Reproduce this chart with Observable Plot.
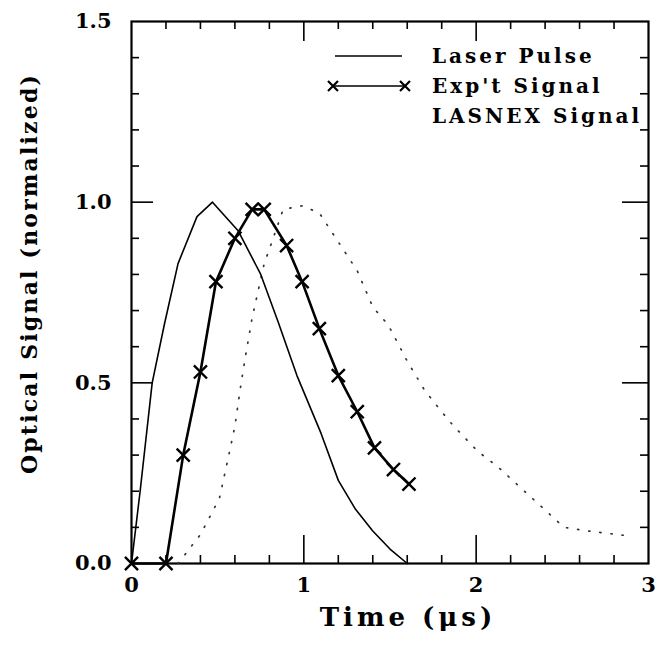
<!DOCTYPE html>
<html><head><meta charset="utf-8">
<script src="https://cdn.jsdelivr.net/npm/d3@7"></script>
<script src="https://cdn.jsdelivr.net/npm/@observablehq/plot@0.6"></script>
<style>
body{margin:0;background:#fff;}
#wrap{position:relative;width:658px;height:647px;}
#legend{position:absolute;left:0;top:0;}
</style></head><body><div id="wrap"></div>
<script>
// ---- data ----
const laserT = [0, 0.05, 0.12, 0.19, 0.27, 0.38, 0.47, 0.62, 0.75, 0.85, 0.96, 1.10, 1.20, 1.30, 1.40, 1.50, 1.60];
const laserV = [0, 0.20, 0.50, 0.66, 0.83, 0.96, 1.00, 0.92, 0.80, 0.67, 0.52, 0.36, 0.23, 0.15, 0.09, 0.04, 0.00];
const expT = [0, 0.2, 0.3, 0.4, 0.49, 0.6, 0.7, 0.77, 0.9, 0.99, 1.09, 1.2, 1.31, 1.41, 1.52, 1.61];
const expV = [0, 0, 0.30, 0.53, 0.78, 0.90, 0.98, 0.98, 0.88, 0.78, 0.65, 0.52, 0.42, 0.32, 0.26, 0.22];
const lasT = [0.27, 0.40, 0.51, 0.56, 0.60, 0.63, 0.66, 0.70, 0.77, 0.80, 0.88, 0.99, 1.09, 1.20, 1.31, 1.40, 1.49, 1.60, 1.70, 1.80, 1.87, 2.01, 2.12, 2.51, 2.65, 2.91];
const lasV = [0.00, 0.08, 0.18, 0.29, 0.38, 0.48, 0.57, 0.68, 0.83, 0.87, 0.98, 0.99, 0.97, 0.89, 0.81, 0.71, 0.66, 0.56, 0.48, 0.42, 0.38, 0.31, 0.27, 0.10, 0.09, 0.075];

const xTicks = [0, 1, 2, 3];
const xTickLabels = ["0", "1", "2", "3"];
const xMinor = [0.2, 0.4, 0.6, 0.8, 1.2, 1.4, 1.6, 1.8, 2.2, 2.4, 2.6, 2.8];
const yTicks = [0, 0.5, 1.0, 1.5];
const yTickLabels = ["0.0", "0.5", "1.0", "1.5"];
const yMinor = [0.1, 0.2, 0.3, 0.4, 0.6, 0.7, 0.8, 0.9, 1.1, 1.2, 1.3, 1.4];
const seriesNames = ["Laser Pulse", "Exp't Signal", "LASNEX Signal"];
const xLabel = "Time (\u03bcs)";
const yLabel = "Optical Signal (normalized)";

// ---- layout ----
const W = 658, H = 647, mL = 131, mR = 10, mT = 21, mB = 84;
const innerW = W - mL - mR, innerH = H - mT - mB;
const FONT = "DejaVu Serif";

const laser = laserT.map((t, i) => ({t, v: laserV[i]}));
const exp = expT.map((t, i) => ({t, v: expV[i]}));
const las = lasT.map((t, i) => ({t, v: lasV[i]}));
const xLab = new Map(xTicks.map((d, i) => [d, xTickLabels[i]]));
const yLab = new Map(yTicks.map((d, i) => [d, yTickLabels[i]]));

const chart = Plot.plot({
  width: W, height: H,
  marginLeft: mL, marginRight: mR, marginTop: mT, marginBottom: mB,
  x: {domain: [0, 3], axis: null},
  y: {domain: [0, 1.5], axis: null},
  style: {fontFamily: FONT, background: "#fff", color: "#000"},
  marks: [
    // inward minor ticks
    Plot.ruleX(xMinor, {x: d => d, insetTop: innerH - 8, stroke: "#000", strokeWidth: 1.6}),
    Plot.ruleX(xMinor, {x: d => d, insetBottom: innerH - 8, stroke: "#000", strokeWidth: 1.6}),
    Plot.ruleX([1, 2], {x: d => d, insetTop: innerH - 28, stroke: "#000", strokeWidth: 1.6}),
    Plot.ruleX([1, 2], {x: d => d, insetBottom: innerH - 20, stroke: "#000", strokeWidth: 1.6}),
    Plot.ruleY(yMinor, {y: d => d, insetRight: innerW - 8, stroke: "#000", strokeWidth: 1.6}),
    Plot.ruleY(yMinor, {y: d => d, insetLeft: innerW - 8, stroke: "#000", strokeWidth: 1.6}),
    Plot.ruleY([0.5, 1.0], {y: d => d, insetRight: innerW - 22, stroke: "#000", strokeWidth: 1.6}),
    Plot.ruleY([0.5, 1.0], {y: d => d, insetLeft: innerW - 26, stroke: "#000", strokeWidth: 1.6}),
    Plot.frame({stroke: "#000", strokeWidth: 2.2}),
    // tick labels
    Plot.text(xTicks, {x: d => d, frameAnchor: "bottom", dy: 28, text: d => xLab.get(d),
      fontSize: 21, fontWeight: "bold", fill: "#000"}),
    Plot.text(yTicks, {y: d => d, frameAnchor: "left", dx: -20, textAnchor: "end", text: d => yLab.get(d),
      fontSize: 21, fontWeight: "bold", fill: "#000"}),
    // axis titles
    Plot.text([xLabel], {frameAnchor: "bottom", dx: 18, dy: 62, textAnchor: "middle", text: d => d, fontSize: 26,
      fontWeight: "bold", fill: "#000"}),
    Plot.text([yLabel], {frameAnchor: "left", dx: -102, dy: -19, textAnchor: "middle", rotate: -90, text: d => d,
      fontSize: 22, fontWeight: "bold", fill: "#000"}),
    // series
    Plot.line(las, {x: "t", y: "v", stroke: "#333", strokeWidth: 1.7, strokeDasharray: "1.2 10", strokeLinecap: "round"}),
    Plot.line(laser, {x: "t", y: "v", stroke: "#000", strokeWidth: 1.6}),
    Plot.line(exp, {x: "t", y: "v", stroke: "#000", strokeWidth: 2.6}),
    Plot.dot(exp, {x: "t", y: "v", symbol: "times", r: 6, stroke: "#000", strokeWidth: 2.4})
  ]
});

// letter spacing on the axis titles (the scanned original is widely spaced)
d3.select(chart).selectAll("text").each(function() {
  const s = this.textContent;
  if (s === xLabel) this.setAttribute("letter-spacing", "4px");
  if (s === yLabel) this.setAttribute("letter-spacing", "2.2px");
});

const wrap = document.getElementById("wrap");
wrap.appendChild(chart);

// ---- legend overlay ----
const ns = "http://www.w3.org/2000/svg";
const leg = document.createElementNS(ns, "svg");
leg.setAttribute("id", "legend");
leg.setAttribute("width", W); leg.setAttribute("height", 150);
const rows = [56, 86, 116];
function el(tag, attrs) { const e = document.createElementNS(ns, tag); for (const k in attrs) e.setAttribute(k, attrs[k]); leg.appendChild(e); return e; }
el("line", {x1: 335, x2: 402, y1: rows[0], y2: rows[0], stroke: "#000", "stroke-width": 1.6});
el("line", {x1: 333, x2: 405, y1: rows[1], y2: rows[1], stroke: "#000", "stroke-width": 1.6});
for (const cx of [333, 405]) {
  el("path", {d: `M${cx-5},${rows[1]-5}L${cx+5},${rows[1]+5}M${cx-5},${rows[1]+5}L${cx+5},${rows[1]-5}`, stroke: "#000", "stroke-width": 2.2});
}
seriesNames.forEach((s, i) => {
  const t = el("text", {x: 432, y: rows[i], "dominant-baseline": "central", "font-family": FONT,
    "font-weight": "bold", "font-size": 20, "letter-spacing": "3px", fill: "#000"});
  t.textContent = s;
});
wrap.appendChild(leg);
</script>
</body></html>
